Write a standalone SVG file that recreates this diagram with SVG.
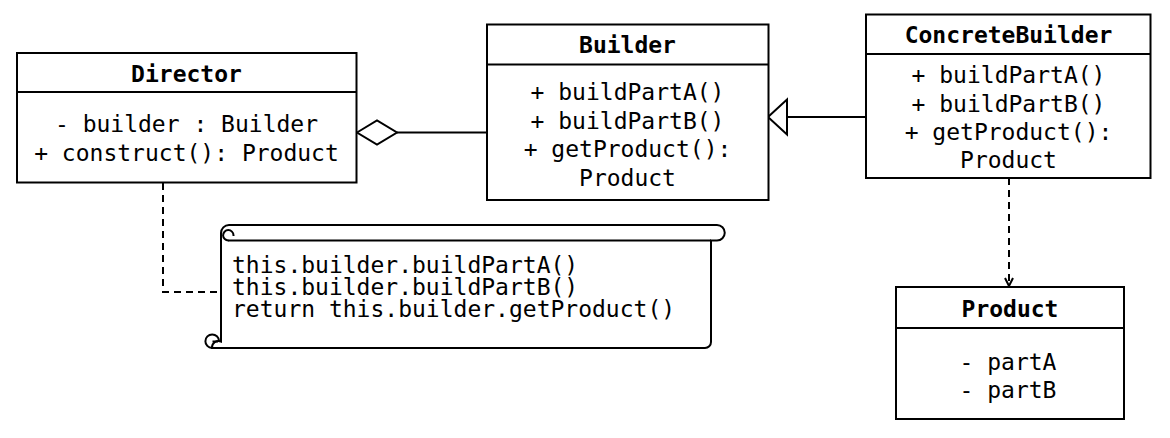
<svg xmlns="http://www.w3.org/2000/svg" width="1170" height="438" viewBox="0 0 1170 438">
<style>
  .box { fill: #ffffff; stroke: #000000; stroke-width: 2; }
  .ln { fill: none; stroke: #000000; stroke-width: 2; }
  .dash { fill: none; stroke: #000000; stroke-width: 2; stroke-dasharray: 7 5; }
  .t { font-family: "DejaVu Sans Mono", "Liberation Mono", monospace; font-size: 23px; fill: #000000; }
  .c { text-anchor: middle; }
  .b { font-weight: bold; }
</style>
<defs>
  <marker id="open" viewBox="0 0 10 10" refX="9" refY="5" markerWidth="10" markerHeight="10" markerUnits="userSpaceOnUse" orient="auto">
    <path d="M1 1 L9 5 L1 9" fill="none" stroke="#000" stroke-width="2"/>
  </marker>
</defs>
<rect width="1170" height="438" fill="#ffffff"/>

<g id="connectors">
  <!-- aggregation Director <> Builder -->
  <path class="ln" d="M397 132.5 L487 132.5"/>
  <path class="box" d="M357 132.5 L377 120.5 L397 132.5 L377 144.5 Z"/>
  <!-- generalization ConcreteBuilder -> Builder -->
  <path class="ln" d="M787 117 L866 117"/>
  <path class="box" d="M768 117 L787 99.5 L787 134.5 Z"/>
  <!-- dependency ConcreteBuilder -> Product -->
  <path class="dash" d="M1009 178 L1009 286" marker-end="url(#open)"/>
  <!-- note link -->
  <path class="dash" d="M163 183 L163 292 L221 292"/>
</g>

<g id="director">
  <rect class="box" x="17" y="53" width="339.5" height="129.5"/>
  <line class="ln" x1="17" y1="92" x2="356.5" y2="92"/>
  <text class="t c b" x="186.5" y="82">Director</text>
  <text class="t c" x="186.5" y="131.5">- builder : Builder</text>
  <text class="t c" x="186.5" y="160.5">+ construct(): Product</text>
</g>

<g id="builder">
  <rect class="box" x="487" y="24.5" width="281.5" height="175.5"/>
  <line class="ln" x1="487" y1="64.5" x2="768.5" y2="64.5"/>
  <text class="t c b" x="627.5" y="53">Builder</text>
  <text class="t c" x="627.5" y="100">+ buildPartA()</text>
  <text class="t c" x="627.5" y="128.5">+ buildPartB()</text>
  <text class="t c" x="627.5" y="157">+ getProduct():</text>
  <text class="t c" x="627.5" y="185.5">Product</text>
</g>

<g id="concretebuilder">
  <rect class="box" x="866" y="14.5" width="284.5" height="163.5"/>
  <line class="ln" x1="866" y1="54" x2="1150.5" y2="54"/>
  <text class="t c b" x="1008.5" y="43">ConcreteBuilder</text>
  <text class="t c" x="1008.5" y="83">+ buildPartA()</text>
  <text class="t c" x="1008.5" y="111.5">+ buildPartB()</text>
  <text class="t c" x="1008.5" y="139.5">+ getProduct():</text>
  <text class="t c" x="1008.5" y="167.5">Product</text>
</g>

<g id="product">
  <rect class="box" x="896" y="287" width="228" height="132"/>
  <line class="ln" x1="896" y1="328" x2="1124" y2="328"/>
  <text class="t c b" x="1010" y="317">Product</text>
  <text class="t c" x="1008" y="370">- partA</text>
  <text class="t c" x="1008" y="398">- partB</text>
</g>

<g id="note">
  <path class="box" d="M229 225 L717 225 A7.5 7.5 0 0 1 717 240.5 L711 240.5 L711 342 A6 6 0 0 1 705 348 L212 348 A6.5 6.5 0 0 1 221 341.5 L221 233 A8 8 0 0 1 229 225 Z"/>
  <path class="ln" d="M228 240.5 L711 240.5"/>
  <path class="ln" d="M228.5 240.5 A5.2 5.2 0 1 1 233.5 235.3 L233.5 236"/>
  <path class="ln" d="M212 348 A6.8 6.8 0 1 1 219 341 M212.5 341.5 L218 341.5"/>
  <text class="t" x="232" y="273">this.builder.buildPartA()</text>
  <text class="t" x="232" y="295">this.builder.buildPartB()</text>
  <text class="t" x="232" y="317">return this.builder.getProduct()</text>
</g>
</svg>
